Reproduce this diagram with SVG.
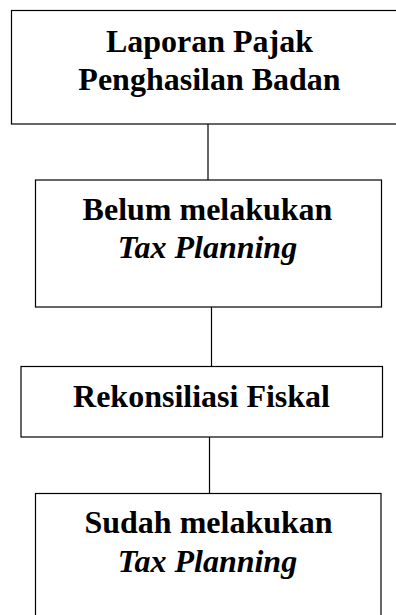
<svg xmlns="http://www.w3.org/2000/svg" width="396" height="615" viewBox="0 0 396 615">
<style>
.box{fill:#fff;stroke:#000;stroke-width:1.2}
.t{font-family:"Liberation Serif","Times New Roman",serif;font-size:32px;font-weight:bold;text-anchor:middle;fill:#000}
.i{font-style:italic}
.c{stroke:#000;stroke-width:1.2;fill:none}
</style>
<rect width="396" height="615" fill="#fff"/>
<g id="connectors">
<line class="c" x1="208" y1="124" x2="208" y2="180"/>
<line class="c" x1="211.5" y1="307" x2="211.5" y2="366.5"/>
<line class="c" x1="209.5" y1="437" x2="209.5" y2="493.5"/>
</g>
<g id="node1">
<rect class="box" x="11.5" y="10.5" width="392" height="113.5"/>
<text class="t" x="209.5" y="52">Laporan Pajak</text>
<text class="t" x="209.5" y="90">Penghasilan Badan</text>
</g>
<g id="node2">
<rect class="box" x="35.5" y="180" width="346" height="127"/>
<text class="t" x="207.5" y="220">Belum melakukan</text>
<text class="t i" x="207.5" y="258">Tax Planning</text>
</g>
<g id="node3">
<rect class="box" x="21" y="366.5" width="361.5" height="70.5"/>
<text class="t" x="201.5" y="407">Rekonsiliasi Fiskal</text>
</g>
<g id="node4">
<rect class="box" x="35.5" y="493.5" width="345.5" height="130"/>
<text class="t" x="208.5" y="533">Sudah melakukan</text>
<text class="t i" x="207.5" y="572">Tax Planning</text>
</g>
</svg>
